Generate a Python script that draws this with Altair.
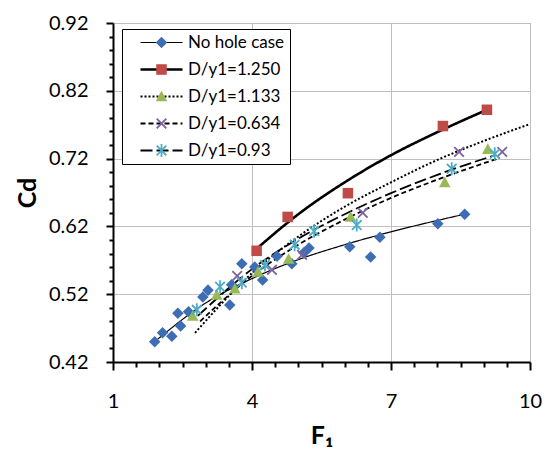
import altair as alt
import pandas as pd

# ---------------- data ----------------
series_names = ["No hole case", "D/y1=1.250", "D/y1=1.133", "D/y1=0.634", "D/y1=0.93"]
curve_names = [n + " fit" for n in series_names]

nohole_x = [1.90, 2.07, 2.27, 2.40, 2.46, 2.63, 2.94, 3.05, 3.52, 3.56, 3.78, 4.06,
            4.23, 4.54, 4.86, 5.12, 5.23, 6.11, 6.56, 6.76, 8.01, 8.59]
nohole_y = [0.450, 0.463, 0.458, 0.492, 0.473, 0.494, 0.516, 0.526, 0.504, 0.534, 0.565, 0.560,
            0.541, 0.576, 0.565, 0.581, 0.588, 0.590, 0.575, 0.604, 0.624, 0.638]

r1250_x = [4.10, 4.77, 6.07, 8.12, 9.07]
r1250_y = [0.584, 0.634, 0.669, 0.768, 0.792]

r1133_x = [2.72, 3.24, 3.63, 4.13, 4.79, 6.13, 8.16, 9.09]
r1133_y = [0.488, 0.519, 0.528, 0.553, 0.572, 0.634, 0.685, 0.734]

r0634_x = [3.68, 4.43, 5.08, 6.39, 8.47, 9.40]
r0634_y = [0.547, 0.556, 0.578, 0.640, 0.730, 0.730]

r093_x = [2.81, 3.31, 3.78, 4.28, 4.92, 5.34, 6.26, 8.31, 9.24]
r093_y = [0.497, 0.531, 0.537, 0.563, 0.593, 0.613, 0.622, 0.705, 0.727]

# trend curves
fit_nohole_x = [1.90, 3.0, 4.0, 5.0, 6.0, 7.0, 8.59]
fit_nohole_y = [0.450, 0.507, 0.543, 0.571, 0.593, 0.612, 0.638]
fit_1250_x = [4.10, 5.0, 6.0, 7.0, 8.0, 9.07]
fit_1250_y = [0.587, 0.638, 0.685, 0.725, 0.759, 0.792]
fit_1133_x = [2.77, 4.0, 5.0, 6.0, 7.0, 8.0, 9.0, 10.0]
fit_1133_y = [0.463, 0.551, 0.605, 0.649, 0.685, 0.718, 0.746, 0.771]
fit_0634_x = [2.88, 4.0, 5.0, 6.0, 7.0, 8.0, 9.35]
fit_0634_y = [0.480, 0.547, 0.593, 0.630, 0.662, 0.689, 0.721]
fit_093_x = [2.83, 4.0, 5.0, 6.0, 7.0, 8.0, 9.24]
fit_093_y = [0.488, 0.557, 0.602, 0.638, 0.669, 0.696, 0.725]

x_ticks = [1 + 0.5 * i for i in range(19)]
y_ticks = [round(0.42 + 0.02 * i, 2) for i in range(26)]

# ---------------- styles ----------------
colors = ["#3D6EB4", "#BE4B48", "#98B954", "#7D60A0", "#4BACC6"]
X_BARS = ("M-0.68,-0.52L0.52,0.68L0.68,0.52L-0.52,-0.68Z"
          "M-0.68,0.52L-0.52,0.68L0.68,-0.52L0.52,-0.68Z")
shapes = [
    "M0,-0.72L0.72,0L0,0.72L-0.72,0Z",
    "M-0.66,-0.66H0.66V0.66H-0.66Z",
    "M0,-0.72L0.72,0.6H-0.72Z",
    X_BARS,
    X_BARS + "M-0.11,-0.82L-0.11,0.82L0.11,0.82L0.11,-0.82Z",
]
dashes = [[1, 0], [1, 0], [2, 2], [5, 3], [12, 4]]
widths = [1.2, 2.6, 2.0, 1.8, 1.8]

# ---------------- tables ----------------
pt_rows = []
for name, xs, ys in zip(series_names,
                        [nohole_x, r1250_x, r1133_x, r0634_x, r093_x],
                        [nohole_y, r1250_y, r1133_y, r0634_y, r093_y]):
    for a, b in zip(xs, ys):
        pt_rows.append({"series": name, "x": a, "y": b})
pts = pd.DataFrame(pt_rows)

fit_rows = []
for name, xs, ys in zip(curve_names,
                        [fit_nohole_x, fit_1250_x, fit_1133_x, fit_0634_x, fit_093_x],
                        [fit_nohole_y, fit_1250_y, fit_1133_y, fit_0634_y, fit_093_y]):
    for a, b in zip(xs, ys):
        fit_rows.append({"curve": name, "x": a, "y": b})
fits = pd.DataFrame(fit_rows)

FONT = "Lato"
xmajor = "datum.value % 3 == 1"
ymajor = "abs(round((datum.value - 0.42) * 50)) % 5 == 0"

xaxis = alt.Axis(
    values=x_ticks,
    labelExpr=f"{xmajor} ? format(datum.value, '.0f') : ''",
    tickSize={"condition": {"test": xmajor, "value": 8}, "value": 5},
    gridColor={"condition": {"test": xmajor, "value": "#BFBFBF"}, "value": "transparent"},
    grid=True, gridWidth=1,
    domainColor="black", domainWidth=2, tickColor="black", tickWidth=2,
    labelFont=FONT, labelFontSize=20, labelColor="black", labelPadding=21,
    labelFlush=False, labelOverlap=False,
    title="F₁", titleFont=FONT, titleFontSize=25, titleFontWeight="bold",
    titleColor="black", titlePadding=12,
)
yaxis = alt.Axis(
    values=y_ticks,
    labelExpr=f"{ymajor} ? format(datum.value, '.2f') : ''",
    tickSize={"condition": {"test": ymajor, "value": 7}, "value": 4},
    gridColor={"condition": {"test": ymajor, "value": "#BFBFBF"}, "value": "transparent"},
    grid=True, gridWidth=1,
    domainColor="black", domainWidth=2, tickColor="black", tickWidth=2,
    labelFont=FONT, labelFontSize=20, labelColor="black", labelPadding=18,
    labelFlush=False, labelOverlap=False,
    title="Cd", titleFont=FONT, titleFontSize=25, titleFontWeight="bold",
    titleColor="black", titlePadding=8,
)
xscale = alt.Scale(domain=[1, 10], nice=False, zero=False)
yscale = alt.Scale(domain=[0.42, 0.92], nice=False, zero=False)

common_leg = dict(orient="none", legendX=9, legendY=6, title=None,
                  padding=5, symbolOffset=26, labelOffset=18, rowPadding=9,
                  labelFont=FONT, labelFontSize=17, labelColor="black")

# line part of the legend: white box with border, hidden labels (only size the box)
line_legend = alt.Legend(
    symbolType="M-3,0H3", symbolSize=196, symbolStrokeColor="black",
    fillColor="white", strokeColor="black", labelOpacity=0,
    labelExpr="replace(datum.label, ' fit', '\u00a0\u00a0\u00a0')",
    **common_leg)
# marker part of the legend: drawn on top, carries the visible labels
pt_legend = alt.Legend(symbolSize=256, symbolOpacity=1, symbolStrokeWidth=0, **common_leg)

lines = alt.Chart(fits).mark_line(color="black", interpolate="monotone").encode(
    x=alt.X("x:Q", scale=xscale, axis=xaxis),
    y=alt.Y("y:Q", scale=yscale, axis=yaxis),
    strokeDash=alt.StrokeDash("curve:N",
                              scale=alt.Scale(domain=curve_names, range=dashes), legend=line_legend),
    strokeWidth=alt.StrokeWidth("curve:N",
                                scale=alt.Scale(type="ordinal", domain=curve_names, range=widths),
                                legend=line_legend),
)

points = alt.Chart(pts).mark_point(filled=True, size=256, opacity=1, strokeWidth=0).encode(
    x=alt.X("x:Q", scale=xscale, axis=xaxis),
    y=alt.Y("y:Q", scale=yscale, axis=yaxis),
    color=alt.Color("series:N", scale=alt.Scale(domain=series_names, range=colors), legend=pt_legend),
    shape=alt.Shape("series:N", scale=alt.Scale(domain=series_names, range=shapes), legend=pt_legend),
)

chart = alt.layer(lines, points).properties(
    width=417, height=339,
    autosize=alt.AutoSizeParams(type="none"),
    padding={"left": 113, "top": 23, "right": 17, "bottom": 93},
    background="white",
).configure_view(stroke="#A6A6A6", strokeWidth=1)

chart.save("out.html", embed_options={"renderer": "svg", "actions": False})
